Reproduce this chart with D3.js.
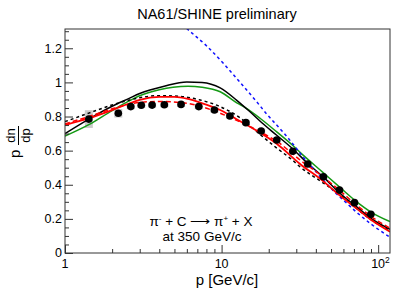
<!DOCTYPE html>
<html>
<head>
<meta charset="utf-8">
<script src="https://cdn.jsdelivr.net/npm/d3@7"></script>
<style>
  body { margin: 0; background: #fff; }
  svg { display: block; font-family: 'Liberation Sans', Arial, sans-serif; }
</style>
</head>
<body>
<svg id="chart" width="407" height="295"></svg>
<script>
// measured points (p in GeV/c, p dn/dp) and systematic errors
const pValues = [1.42, 2.19, 2.63, 3.07, 3.6, 4.31, 5.51, 7.15, 9.0, 11.3, 14.3, 17.9, 22.5, 28.5, 35.5, 44.7, 56.6, 70.6, 89.8]
const dndp = [0.785, 0.819, 0.858, 0.866, 0.867, 0.869, 0.871, 0.858, 0.838, 0.803, 0.764, 0.715, 0.662, 0.596, 0.522, 0.447, 0.369, 0.295, 0.227]
const systErr = [0.052, 0.025, 0.015, 0.015, 0.015, 0.015, 0.015, 0.015, 0.015, 0.015, 0.015, 0.015, 0.015, 0.014, 0.012, 0.012, 0.012, 0.01, 0.01]

// model curves, [p, p dn/dp]
const blackSolid = [[1, 0.70], [1.42, 0.785], [2, 0.86], [2.55, 0.905], [3, 0.935], [4.3, 0.978], [6, 1.003], [7.5, 1.0], [9.8, 0.968], [12.5, 0.895], [15, 0.832], [18, 0.765], [22.5, 0.69], [28.5, 0.61], [35.5, 0.525], [44.7, 0.445], [57, 0.35], [73, 0.27], [90, 0.203], [119, 0.139]]
const blackDashed = [[1, 0.77], [1.42, 0.82], [2, 0.868], [2.55, 0.895], [3, 0.91], [4, 0.922], [5, 0.92], [6.1, 0.912], [7.3, 0.897], [9.8, 0.858], [13, 0.795], [17.6, 0.695], [22.5, 0.615], [28.3, 0.545], [31.7, 0.505], [44.7, 0.41], [57, 0.342], [73, 0.26], [90, 0.195], [119, 0.132]]
const redSolid = [[1, 0.75], [1.42, 0.79], [2, 0.838], [2.55, 0.875], [3, 0.898], [4, 0.915], [5, 0.915], [6.1, 0.903], [7.3, 0.882], [9.8, 0.838], [13, 0.775], [17.6, 0.705], [22.5, 0.64], [31.7, 0.522], [44.7, 0.42], [57, 0.336], [73, 0.26], [90, 0.195], [119, 0.125]]
const redDashed = [[1, 0.757], [1.42, 0.8], [2, 0.845], [2.55, 0.872], [3, 0.883], [4, 0.888], [6.1, 0.877], [7.3, 0.86], [9.8, 0.819], [13, 0.77], [17.6, 0.71], [22.5, 0.655], [31.7, 0.545], [44.7, 0.445], [57, 0.365], [73, 0.28], [90, 0.215], [119, 0.145]]
const greenSolid = [[1, 0.685], [1.42, 0.752], [2, 0.835], [2.55, 0.89], [3, 0.922], [4, 0.957], [4.9, 0.972], [6.1, 0.978], [7.5, 0.972], [9.8, 0.945], [12.5, 0.88], [14, 0.855], [17.6, 0.79], [22.5, 0.71], [28.5, 0.63], [31.7, 0.59], [44.7, 0.47], [57, 0.385], [73, 0.3], [90, 0.24], [119, 0.184]]
const blueDashed = [[5.6, 1.34], [6.27, 1.3], [8, 1.215], [10.3, 1.11], [11.9, 1.045], [16.8, 0.885], [19.4, 0.815], [24.9, 0.705], [28.6, 0.638], [33, 0.565], [40.6, 0.47], [50, 0.378], [60, 0.31], [73, 0.238], [90, 0.17], [119, 0.092]]

const yTicks = [0, 0.2, 0.4, 0.6, 0.8, 1, 1.2]
const yTickLabels = ['0', '0.2', '0.4', '0.6', '0.8', '1', '1.2']
const xTicks = [1, 10, 100]

const svg = d3.select('#chart')
const width = 407
const height = 295
const margin = { left: 65, right: 17, top: 29, bottom: 42 }
const innerWidth = width - margin.left - margin.right
const innerHeight = height - margin.top - margin.bottom

const xScale = d3.scaleLog().domain([1, 119]).range([margin.left, margin.left + innerWidth])
const yScale = d3.scaleLinear().domain([0, 1.313]).range([margin.top + innerHeight, margin.top])

svg.append('defs').append('clipPath').attr('id', 'plot-clip')
	.append('rect')
	.attr('x', margin.left).attr('y', margin.top)
	.attr('width', innerWidth).attr('height', innerHeight)

// systematic boxes
const boxHalf = 4
svg.append('g')
	.selectAll('rect')
	.data(pValues)
	.join('rect')
	.attr('x', d => xScale(d) - boxHalf)
	.attr('width', boxHalf * 2)
	.attr('y', (d, i) => yScale(dndp[i] + systErr[i]))
	.attr('height', (d, i) => yScale(dndp[i] - systErr[i]) - yScale(dndp[i] + systErr[i]))
	.attr('fill', '#cacaca')

// model curves
const line = d3.line().x(d => xScale(d[0])).y(d => yScale(d[1])).curve(d3.curveMonotoneX)
const curves = [
	{ data: greenSolid, color: '#159a15', dash: null, w: 1.5 },
	{ data: blackSolid, color: '#000', dash: null, w: 1.5 },
	{ data: blueDashed, color: '#1010ff', dash: '3,3', w: 1.5 },
	{ data: blackDashed, color: '#000', dash: '3,3', w: 1.5 },
	{ data: redDashed, color: '#ff0000', dash: '5,3', w: 1.5 },
	{ data: redSolid, color: '#ff0000', dash: null, w: 1.8 },
]
svg.append('g')
	.attr('clip-path', 'url(#plot-clip)')
	.selectAll('path')
	.data(curves)
	.join('path')
	.attr('d', d => line(d.data))
	.attr('fill', 'none')
	.attr('stroke', d => d.color)
	.attr('stroke-width', d => d.w)
	.attr('stroke-dasharray', d => d.dash)

// data points
svg.append('g')
	.selectAll('circle')
	.data(pValues)
	.join('circle')
	.attr('cx', d => xScale(d))
	.attr('cy', (d, i) => yScale(dndp[i]))
	.attr('r', 3.8)
	.attr('fill', '#000')

// axes, ROOT style with inward ticks; labels placed separately below
const yMinor = d3.range(0, 1.31, 0.05).filter(v => Math.abs(v * 5 - Math.round(v * 5)) > 1e-6)
const xMinor = [2, 3, 4, 5, 6, 7, 8, 9, 20, 30, 40, 50, 60, 70, 80, 90]

const tickGroups = [
	{ axis: d3.axisLeft(yScale).tickValues(yTicks).tickSize(-8), t: `translate(${margin.left}, 0)` },
	{ axis: d3.axisLeft(yScale).tickValues(yMinor).tickSize(-4), t: `translate(${margin.left}, 0)` },
	{ axis: d3.axisBottom(xScale).tickValues(xTicks).tickSize(-8), t: `translate(0, ${margin.top + innerHeight})` },
	{ axis: d3.axisBottom(xScale).tickValues(xMinor).tickSize(-4), t: `translate(0, ${margin.top + innerHeight})` },
]
tickGroups.forEach(g => {
	const sel = svg.append('g').attr('transform', g.t).call(g.axis)
	sel.select('.domain').remove()
	sel.selectAll('text').remove()
	sel.selectAll('.tick line').attr('stroke', '#333')
})

svg.append('g')
	.selectAll('text')
	.data(yTicks)
	.join('text')
	.attr('x', margin.left - 3)
	.attr('y', d => yScale(d))
	.attr('dy', '0.35em')
	.attr('text-anchor', 'end')
	.style('font-size', '12.5px')
	.text((d, i) => yTickLabels[i])

const xLabels = svg.append('g')
xLabels.selectAll('text')
	.data(xTicks.slice(0, 2))
	.join('text')
	.attr('x', d => xScale(d))
	.attr('y', margin.top + innerHeight + 15)
	.attr('text-anchor', 'middle')
	.style('font-size', '12.5px')
	.text(d => String(d))

// 10^2 label
const sup = xLabels.append('text')
	.attr('x', xScale(xTicks[2]) - 7)
	.attr('y', margin.top + innerHeight + 15)
	.style('font-size', '12.5px')
sup.append('tspan').text('10')
sup.append('tspan').attr('dy', -5).style('font-size', '8.5px').text('2')

// frame
svg.append('rect')
	.attr('x', margin.left).attr('y', margin.top)
	.attr('width', innerWidth).attr('height', innerHeight)
	.attr('fill', 'none').attr('stroke', '#333').attr('stroke-width', 1)

// titles
svg.append('text')
	.attr('x', 217).attr('y', 19)
	.attr('text-anchor', 'middle')
	.style('font-size', '14.5px')
	.text('NA61/SHINE preliminary')

svg.append('text')
	.attr('x', 227).attr('y', 285)
	.attr('text-anchor', 'middle')
	.style('font-size', '15px')
	.text('p [GeV/c]')

const yTitle = svg.append('g').attr('transform', 'rotate(-90)')
yTitle.append('text').attr('x', -158).attr('y', 20).style('font-size', '15px').text('p')
yTitle.append('text').attr('x', -135.5).attr('y', 15).attr('text-anchor', 'middle').style('font-size', '13px').text('dn')
yTitle.append('text').attr('x', -135.5).attr('y', 30).attr('text-anchor', 'middle').style('font-size', '13px').text('dp')
yTitle.append('line').attr('x1', -145).attr('x2', -126).attr('y1', 18.5).attr('y2', 18.5).attr('stroke', '#000').attr('stroke-width', 1)

const note = svg.append('text').attr('x', 201).attr('y', 226).attr('text-anchor', 'middle').style('font-size', '13.5px')
note.append('tspan').text('π')
note.append('tspan').attr('dy', -5).style('font-size', '8px').text('-')
note.append('tspan').attr('dy', 5).text(' + C \u27F6 π')
note.append('tspan').attr('dy', -5).style('font-size', '8px').text('+')
note.append('tspan').attr('dy', 5).text(' + X')

svg.append('text')
	.attr('x', 202).attr('y', 241)
	.attr('text-anchor', 'middle')
	.style('font-size', '13.5px')
	.text('at 350 GeV/c')
</script>
</body>
</html>
